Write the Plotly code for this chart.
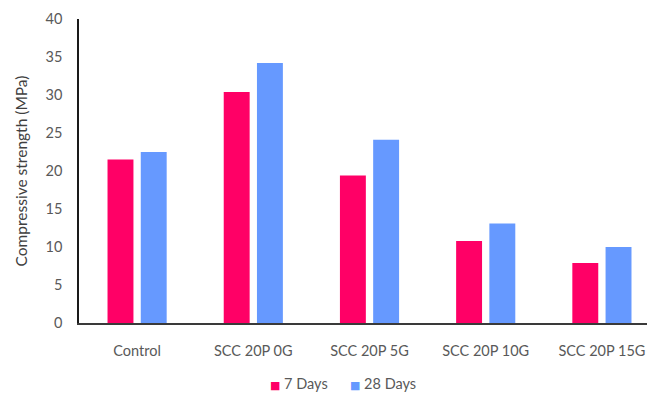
import plotly.graph_objects as go

# Compressive strength of SCC mixes at two curing ages
categories = ["Control", "SCC 20P 0G", "SCC 20P 5G", "SCC 20P 10G", "SCC 20P 15G"]
days_7 = [21.5, 30.4, 19.4, 10.8, 7.9]
days_28 = [22.5, 34.2, 24.1, 13.1, 10.0]
series_names = ["7 Days", "28 Days"]
series_colors = ["#FF0066", "#6699FF"]
y_ticks = [0, 5, 10, 15, 20, 25, 30, 35, 40]

FONT = "Lato, 'Open Sans', sans-serif"
GREY = "#595959"

fig = go.Figure()
for name, vals, col in zip(series_names, [days_7, days_28], series_colors):
    fig.add_trace(go.Bar(x=categories, y=vals, name=name,
                         marker=dict(color=col, line=dict(width=0))))

# compact legend below the plot: coloured square followed by the series name
legend_x = [0.333, 0.474]
for name, col, lx in zip(series_names, series_colors, legend_x):
    fig.add_annotation(
        xref="paper", yref="paper", x=lx, y=-0.199,
        xanchor="left", yanchor="middle", showarrow=False,
        text=f"<span style='color:{col};font-family:DejaVu Sans;font-size:11px'>■</span> {name}",
        font=dict(family=FONT, size=14.5, color=GREY),
    )

fig.update_layout(
    width=647, height=394,
    margin=dict(l=79, r=0, t=19, b=71),
    paper_bgcolor="white", plot_bgcolor="white",
    barmode="group", bargap=0.428, bargroupgap=0.22,
    font=dict(family=FONT, size=14.5, color=GREY),
    showlegend=False,
    xaxis=dict(
        type="category", range=[-0.5, 4.388],
        showline=True, linecolor="#3a3a3a", linewidth=1.5,
        ticks="", showgrid=False, ticklabelstandoff=14,
        tickfont=dict(family=FONT, size=14.5, color=GREY),
    ),
    yaxis=dict(
        range=[0, 40], tickvals=y_ticks,
        showline=True, linecolor="#1a1a1a", linewidth=1.5,
        ticks="", showgrid=False, zeroline=False, ticklabelstandoff=12,
        tickfont=dict(family=FONT, size=14.5, color=GREY),
        title=dict(text="Compressive strength (MPa)", standoff=14,
                   font=dict(family=FONT, size=15.5, color="#404040")),
    ),
)

fig.write_html("out.html")
